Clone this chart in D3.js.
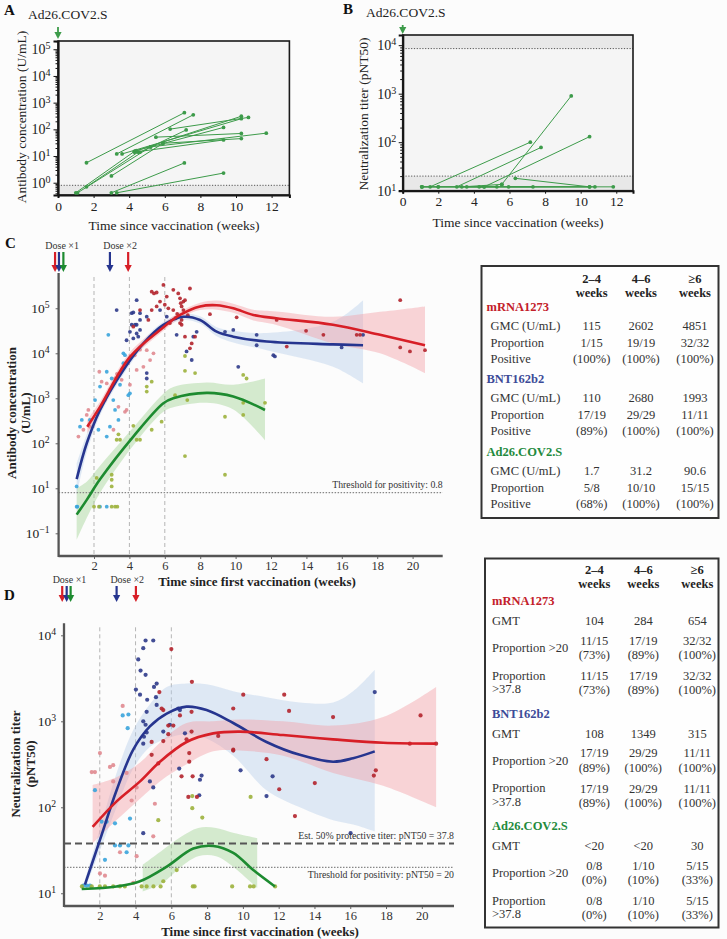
<!DOCTYPE html>
<html><head><meta charset="utf-8">
<script src="https://cdn.jsdelivr.net/npm/d3@7"></script>
<style>
body{margin:0;background:#fcfcfc;}
svg, svg text{font-family:'Liberation Serif','DejaVu Serif','Noto Serif',serif;}
</style>
</head><body>
<script>
// ---------------- DATA ----------------
const aWeek0 = [1.6, 1.0, 1.1, 1.6, 3.0, 3.3, 3.6, 4.3, 4.4, 5.5, 6.3, 5.2, 5.9, 4.6, 3.0, 3.3, 4.3];
const aConc0 = [5.6, 0.42, 0.42, 0.7, 1.8, 12, 12, 15, 16, 51, 102, 22, 30, 14, 0.42, 0.42, 14];
const aWeek1 = [7.1, 4.3, 5.2, 4.5, 5.9, 7.6, 10.3, 10.3, 9.3, 10.3, 10.7, 11.7, 10.3, 7.2, 7.1, 9.3, 9.3];
const aConc1 = [420, 15, 22, 14, 30, 350, 250, 310, 118, 70, 280, 72, 45, 95, 5.5, 2.3, 40];
const aThreshold = 0.8;
const bWeek0 = [1.07, 1.1, 1.54, 2.0, 3.04, 5.57, 3.6, 4.3, 4.58, 6.33, 5.95, 3.32, 1.07];
const bTiter0 = [12, 12, 12, 12, 12, 13.5, 12, 12, 12, 18, 12, 12, 12];
const bWeek1 = [5.29, 4.58, 7.17, 7.32, 7.77, 9.47, 11.83, 10.8, 10.5, 10.5, 10.5, 5.57, 2.0];
const bTiter1 = [12, 12, 100, 12, 78, 900, 12, 12, 130, 12, 12, 13.5, 12];
const bLowLimit = 20, bHighLimit = 8500;
const decadeLabelsA = ["0","1","2","3","4","5"];
const decadeLabelsB = ["1","2","3","4"];
const weekTicksAB = [0,2,4,6,8,10,12];

const cRedWeek = [1.62,2.34,4.03,5.73,6.86,7.99,8.93,9.87,11.0,12.3,15.5,18.16,20.7];
const cRedFit = [234,646,8300,33000,71000,110000,117000,100000,71000,60000,43000,25700,15100];
const cRedHi = [331,851,10500,39800,83200,132000,148000,126000,93300,85100,64600,83200,110000];
const cRedLo = [166,490,6600,27500,60300,91200,93300,79400,53700,42700,16600,10000,3630];
const cBlueWeek = [1.02,1.59,2.34,3.66,4.79,5.92,7.05,7.99,8.93,9.87,11.76,15.5,17.2];
const cBlueFit = [16,100,550,4270,16600,42700,64600,55000,30200,23400,18200,15800,15100];
const cBlueHi = [35,158,724,5370,20000,50100,75900,66100,38000,31600,28200,50100,151000];
const cBlueLo = [7.1,63,417,3390,13800,36300,55000,45700,24000,17400,11700,5010,2140];
const cGreenWeek = [1.02,1.6,2.34,4.22,5.92,6.48,8.37,9.87,11.66];
const cGreenFit = [2.6,5.6,15.8,141,776,1000,1320,1100,550];
const cGreenHi = [10,14.1,31.6,224,1260,1780,2240,2000,2750];
const cGreenLo = [0.71,2.24,7.9,89,500,631,794,562,117];
const cRedDots = [[5.26,234000],[5.39,214000],[5.54,224000],[5.92,331000],[5.26,91000],[5.54,110000],[5.73,141000],[6.11,182000],[6.48,257000],[6.76,214000],[6.86,166000],[6.95,110000],[7.05,91000],[7.14,151000],[7.42,275000],[6.48,91000],[6.29,47000],[6.86,47000],[6.95,55000],[7.05,141000],[6.95,43000],[7.14,23400],[7.42,12900],[7.52,16600],[7.71,23400],[8.55,74000],[10.06,63000],[12.32,55000],[12.89,14100],[13.98,31600],[14.96,25700],[16.84,25700],[17.03,25700],[19.3,151000],[19.3,13500],[19.85,11000],[20.7,11700],[4.6,91000],[4.22,39000],[5.07,55000],[6.6,60000],[6.7,75000],[6.2,100000],[6.0,120000],[6.9,130000],[7.3,70000]];
const cPinkDots = [[1.59,427],[1.68,550],[2.3,3890],[2.43,2340],[2.9,1550],[3.19,2750],[3.56,2570],[3.75,500],[3.84,550],[4.03,2000],[4.41,4270],[4.79,5010],[4.98,11700],[5.17,7080],[5.36,10000],[1.12,141],[1.4,200],[1.77,234],[2.62,912],[2.72,2140],[3.1,200],[3.38,646],[3.3,3500],[3.6,4500],[3.9,6000],[4.3,9000],[4.6,12000]];
const cBlueDots = [[3.28,91000],[4.13,78000],[4.22,81000],[4.41,151000],[4.6,78000],[4.98,65000],[4.13,43000],[4.32,43000],[4.41,43000],[4.6,55000],[4.03,30000],[4.41,27500],[4.6,33000],[4.22,21400],[4.5,23400],[3.84,19500],[5.73,91000],[6.11,65000],[6.67,25700],[7.61,23400],[7.8,30000],[9.4,30000],[9.87,33000],[11.19,25700],[11.19,15100],[12.13,9100],[12.22,8500],[15.99,13500],[10.15,5000],[7.52,7100],[7.23,11000],[4.98,2750],[4.98,3630],[17.2,25700]];
const cCyanDots = [[2.81,25700],[2.06,912],[2.34,1820],[2.72,3890],[3.0,2750],[3.09,912],[3.19,550],[3.38,331],[2.72,141],[2.9,234],[3.66,10000],[3.75,9100],[3.47,2000],[3.66,6030],[3.94,1170],[4.03,1290],[1.21,234],[1.31,331],[2.25,200],[1.02,11],[1.77,331],[1.06,3.9],[2.34,3.9],[2.72,3.9],[1.02,3.9]];
const cGreenDots = [[7.14,8700],[7.14,4070],[7.71,3630],[5.26,2340],[4.98,1410],[4.98,1820],[6.58,1170],[7.27,912],[10.43,3310],[10.62,2750],[10.43,794],[10.43,427],[11.66,794],[9.4,389],[7.14,52],[9.4,20],[4.22,245],[4.41,120],[4.6,120],[3.47,120],[3.28,120],[3.38,158],[5.26,200],[5.82,302],[2.15,17],[3.0,20],[3.0,15.5],[2.0,3.9],[2.28,3.9],[3.0,3.9],[3.19,3.9],[3.32,3.9],[3.0,11]];
const cThreshold = 8;
const cDecades = [1e5,1e4,1e3,1e2,1e1,1e0];
const cDecadeLabels = ["5","4","3","2","1","\u22121"];
const weekTicksCD = [2,4,6,8,10,12,14,16,18,20];
const bandWeeks = [2,4,6];
const cDose1 = [-0.2, 0.02, 0.27];
const cDose2 = [2.9, 3.93];
const dDose1 = [-0.1, 0.15, 0.37];
const dDose2 = [2.94, 4.02];

const dRedWeek = [1.6,2.94,4.25,5.36,6.85,8.34,9.83,12.25,15.04,17.84,20.8];
const dRedFit = [59,117,200,339,575,724,759,692,617,562,550];
const dRedHi = [182,224,331,562,955,1000,1050,1000,891,1120,2510];
const dRedLo = [38,71,126,200,316,447,457,398,251,178,100];
const dBlueWeek = [1.17,2.01,2.94,3.87,4.8,5.74,6.85,7.97,9.46,11.32,13.18,15.04,16.16,17.37];
const dBlueFit = [12.6,41.7,158,468,871,1230,1480,1350,955,575,407,339,372,447];
const dBlueHi = [14.1,56.2,251,794,1580,2510,2750,2690,2240,1910,1660,1660,2240,3980];
const dBlueLo = [11.2,31.6,100,282,501,631,708,631,398,158,100,70.8,63.1,52.5];
const dGreenWeek = [0.99,2.94,4.25,5.74,7.23,8.34,9.46,10.58,11.79];
const dGreenFit = [11.2,12.0,13.8,20.4,33.1,35.5,29.5,18.6,12.0];
const dGreenBandWeek = [4.4,5.5,6.5,7.5,8.5,9.5,10.8];
const dGreenHi = [21.4,31.6,44.7,57.5,57.5,50.1,43.7];
const dGreenLo = [10.5,13.2,20,26.9,26.9,20,11.5];
const dBlueDots = [[4.56,8710],[4.99,8710],[4.43,7080],[4.15,5250],[4.28,3890],[4.56,3470],[4.02,2340],[5.03,2510],[5.18,2750],[4.25,2040],[4.65,1780],[5.14,1910],[5.18,1550],[4.62,1290],[4.56,912],[4.43,1000],[4.47,661],[4.62,741],[4.43,550],[4.8,200],[4.99,170],[4.43,50],[6.44,282],[7.6,209],[7.69,234],[7.56,138],[9.87,269],[11.66,229],[11.32,135],[16.02,50],[6.76,724],[5.55,759],[5.92,912],[6.39,1410],[6.48,1350],[17.37,2190]];
const dCyanDots = [[3.28,1170],[3.6,1200],[3.56,832],[1.73,158],[2.1,68],[2.38,68],[2.85,65],[3.69,74],[2.85,36],[3.13,36],[3.6,36],[3.5,30],[2.29,24.5],[1.27,12.3],[1.45,12.3],[1.08,12.3]];
const dRedDots = [[6.0,6920],[7.15,2880],[5.33,2190],[5.46,1410],[5.55,1350],[6.48,1170],[7.13,1290],[9.46,1410],[12.58,1320],[15.04,1120],[19.93,1170],[5.83,891],[6.11,891],[7.13,759],[5.83,708],[5.55,589],[7.0,427],[7.0,339],[6.85,617],[4.9,575],[4.9,407],[5.27,324],[9.46,468],[6.57,229],[7.19,229],[6.95,132],[7.43,132],[8.62,676],[11.32,363],[12.03,162],[14.02,191],[12.91,79],[17.43,269],[17.32,234],[19.33,550],[20.8,550],[10.02,2040],[12.31,2040],[9.46,457]];
const dPinkDots = [[1.55,257],[1.73,257],[2.01,427],[2.57,295],[2.75,309],[3.5,251],[2.75,200],[3.78,120],[4.06,170],[5.08,110],[4.99,46],[3.13,30],[2.01,17],[2.29,16],[3.87,13.2],[4.06,27],[3.28,1510]];
const dGreenDots = [[1.0,12],[1.55,12],[2.0,12],[2.29,12],[2.75,12],[3.13,12],[3.4,12],[4.34,12],[4.62,12],[5.0,12],[5.4,12],[7.2,12],[7.3,12],[9.4,12],[10.4,12],[10.6,12],[11.8,12],[5.55,13.8],[6.3,18.6],[5.27,70.8],[7.17,135],[7.17,97.7],[7.73,75.9],[10.43,132]];
const dProtective = 37.8, dThreshold = 20;
const dDecades = [1e4,1e3,1e2,1e1];
const dDecadeLabels = ["4","3","2","1"];

const tableCols = ["2\u20134", "4\u20136", "\u22656"];
const groupNames = ["mRNA1273","BNT162b2","Ad26.COV2.S"];
const cGMC = [["115","2602","4851"],["110","2680","1993"],["1.7","31.2","90.6"]];
const cProp = [["1/15","19/19","32/32"],["17/19","29/29","11/11"],["5/8","10/10","15/15"]];
const cPos = [["(100%)","(100%)","(100%)"],["(89%)","(100%)","(100%)"],["(68%)","(100%)","(100%)"]];
const dGMT = [["104","284","654"],["108","1349","315"],["<20","<20","30"]];
const dProp20 = [["11/15","17/19","32/32"],["17/19","29/29","11/11"],["0/8","1/10","5/15"]];
const dPct20 = [["(73%)","(89%)","(100%)"],["(89%)","(100%)","(100%)"],["(0%)","(10%)","(33%)"]];
const dProp378 = [["11/15","17/19","32/32"],["17/19","29/29","11/11"],["0/8","1/10","5/15"]];
const dPct378 = [["(73%)","(89%)","(100%)"],["(89%)","(100%)","(100%)"],["(0%)","(10%)","(33%)"]];

// ---------------- STYLE ----------------
const FONT = "'Liberation Serif','DejaVu Serif','Noto Serif',serif";
const COL = {
  red:"#d71f27", blue:"#26358f", green:"#1d8b30",
  redDot:"#b3242c", pinkDot:"#e08a90", blueDot:"#2d3a89", cyanDot:"#3aa4dc", greenDot:"#9cb13c",
  redBand:"#f29aa2", blueBand:"#b5cdea", greenBand:"#9ed28e",
  headRed:"#c3202a", headBlue:"#3c4b98", headGreen:"#238a3c", abGreen:"#3d9b4a"
};
const W = 727, H = 939;
const svg = d3.select("body").append("svg").attr("width", W).attr("height", H).attr("font-family", FONT);

function supTicks(g, labels, size) {
  g.selectAll(".tick text").each(function(d, i) {
    const t = d3.select(this);
    t.text(null).attr("font-size", size).attr("font-family", FONT);
    t.append("tspan").text("10");
    t.append("tspan").attr("dy", "-0.5em").attr("font-size", "0.72em").text(labels[i]);
  });
}
function styleAxis(g, color, width) {
  g.attr("font-family", FONT);
  g.select(".domain").attr("stroke", color).attr("stroke-width", width);
  g.selectAll(".tick line").attr("stroke", color);
  g.selectAll(".tick text").attr("fill", "#222").attr("font-family", FONT);
}
function arrow(g, x, y0, y1, color, w) {
  g.append("line").attr("x1", x).attr("x2", x).attr("y1", y0).attr("y2", y1 - 6)
    .attr("stroke", color).attr("stroke-width", w);
  g.append("path").attr("d", `M${x-3.6},${y1-7}L${x+3.6},${y1-7}L${x},${y1}Z`).attr("fill", color);
}
function minorTicks(lo, hi) {
  const out = [];
  for (let e = -2; e <= 6; e++) for (let k = 2; k <= 9; k++) {
    const v = k * Math.pow(10, e);
    if (v > lo && v < hi) out.push(v);
  }
  return out;
}
function label(g, x, y, s, size, opts) {
  const t = g.append("text").attr("x", x).attr("y", y).attr("font-size", size).attr("font-family", FONT)
    .attr("fill", "#222").text(s);
  if (opts) opts(t);
  return t;
}

// ---------------- PANEL A ----------------
(function() {
  const g = svg.append("g");
  const x = d3.scaleLinear().domain([0, 13]).range([58, 289.4]);
  const y = d3.scaleLog().domain([0.347, 204000]).range([195, 41]);
  g.append("rect").attr("x", 58).attr("y", 41).attr("width", 231.4).attr("height", 154).attr("fill", "#f5f5f5");
  g.append("rect").attr("x", 58).attr("y", y(aThreshold)).attr("width", 231.4).attr("height", 195 - y(aThreshold)).attr("fill", "#e8e8e8");
  g.append("line").attr("x1", 58).attr("x2", 289.4).attr("y1", y(aThreshold)).attr("y2", y(aThreshold))
    .attr("stroke", "#555").attr("stroke-dasharray", "1.2,1.6");
  const minor = g.append("g").attr("transform", "translate(58,0)")
    .call(d3.axisLeft(y).tickValues(minorTicks(0.347, 204000)).tickSize(2.5).tickFormat(""));
  styleAxis(minor, "#111", 0);
  const ya = g.append("g").attr("transform", "translate(58,0)")
    .call(d3.axisLeft(y).tickValues([1,10,100,1000,10000,100000]).tickSize(4.5).tickPadding(3));
  styleAxis(ya, "#111", 2.2);
  supTicks(ya, decadeLabelsA, "14px");
  const xa = g.append("g").attr("transform", "translate(0,195)")
    .call(d3.axisBottom(x).tickValues(weekTicksAB).tickSize(3).tickPadding(3).tickFormat(d3.format("d")));
  styleAxis(xa, "#111", 2);
  xa.selectAll(".tick text").attr("font-size", "13.5px");
  g.append("rect").attr("x", 58).attr("y", 41).attr("width", 231.4).attr("height", 154)
    .attr("fill", "none").attr("stroke", "#1a1a1a").attr("stroke-width", 1.6);
  aWeek0.forEach((w, i) => {
    g.append("line").attr("x1", x(w)).attr("y1", y(aConc0[i])).attr("x2", x(aWeek1[i])).attr("y2", y(aConc1[i]))
      .attr("stroke", COL.abGreen).attr("stroke-width", 1);
    g.append("circle").attr("cx", x(w)).attr("cy", y(aConc0[i])).attr("r", 1.9).attr("fill", COL.abGreen);
    g.append("circle").attr("cx", x(aWeek1[i])).attr("cy", y(aConc1[i])).attr("r", 1.9).attr("fill", COL.abGreen);
  });
  label(g, 4, 15, "A", "15px", t => t.attr("font-weight", "bold").attr("fill", "#111"));
  label(g, 28, 19, "Ad26.COV2.S", "13.5px");
  arrow(g, x(0), 27, 39, COL.abGreen, 1.8);
  label(g, 0, 0, "Antibody concentration (U/mL)", "13.5px", t => t.attr("x", null).attr("y", null)
    .attr("transform", "translate(21,117) rotate(-90)").attr("text-anchor", "middle").attr("dominant-baseline", "central"));
  label(g, 174, 230, "Time since vaccination (weeks)", "13.5px", t => t.attr("text-anchor", "middle"));
})();

// ---------------- PANEL B ----------------
(function() {
  const g = svg.append("g");
  const L = 402.7, R = 633, T = 35, B = 190.7;
  const x = d3.scaleLinear().domain([0, 12.94]).range([L, R]);
  const y = d3.scaleLog().domain([10, 16200]).range([B, T]);
  g.append("rect").attr("x", L).attr("y", T).attr("width", R - L).attr("height", B - T).attr("fill", "#f5f5f5");
  g.append("rect").attr("x", L).attr("y", y(bLowLimit)).attr("width", R - L).attr("height", B - y(bLowLimit)).attr("fill", "#e8e8e8");
  g.append("rect").attr("x", L).attr("y", T).attr("width", R - L).attr("height", y(bHighLimit) - T).attr("fill", "#e8e8e8");
  [bLowLimit, bHighLimit].forEach(v => g.append("line").attr("x1", L).attr("x2", R).attr("y1", y(v)).attr("y2", y(v))
    .attr("stroke", "#555").attr("stroke-dasharray", "1.2,1.6"));
  const minor = g.append("g").attr("transform", `translate(${L},0)`)
    .call(d3.axisLeft(y).tickValues(minorTicks(10, 16200)).tickSize(2.5).tickFormat(""));
  styleAxis(minor, "#111", 0);
  const ya = g.append("g").attr("transform", `translate(${L},0)`)
    .call(d3.axisLeft(y).tickValues([10,100,1000,10000]).tickSize(4).tickPadding(2.5));
  styleAxis(ya, "#111", 2.2);
  supTicks(ya, decadeLabelsB, "14px");
  const xa = g.append("g").attr("transform", `translate(0,${B})`)
    .call(d3.axisBottom(x).tickValues(weekTicksAB).tickSize(3).tickPadding(3).tickFormat(d3.format("d")));
  styleAxis(xa, "#111", 2);
  xa.selectAll(".tick text").attr("font-size", "13.5px");
  g.append("rect").attr("x", L).attr("y", T).attr("width", R - L).attr("height", B - T)
    .attr("fill", "none").attr("stroke", "#1a1a1a").attr("stroke-width", 1.6);
  bWeek0.forEach((w, i) => {
    g.append("line").attr("x1", x(w)).attr("y1", y(bTiter0[i])).attr("x2", x(bWeek1[i])).attr("y2", y(bTiter1[i]))
      .attr("stroke", COL.abGreen).attr("stroke-width", 1);
    g.append("circle").attr("cx", x(w)).attr("cy", y(bTiter0[i])).attr("r", 1.9).attr("fill", COL.abGreen);
    g.append("circle").attr("cx", x(bWeek1[i])).attr("cy", y(bTiter1[i])).attr("r", 1.9).attr("fill", COL.abGreen);
  });
  label(g, 343, 14, "B", "15px", t => t.attr("font-weight", "bold").attr("fill", "#111"));
  label(g, 366, 17, "Ad26.COV2.S", "13.5px");
  arrow(g, x(0), 25, 34, COL.abGreen, 1.8);
  label(g, 0, 0, "Neutralization titer (pNT50)", "13.5px", t => t.attr("x", null).attr("y", null)
    .attr("transform", "translate(363,114) rotate(-90)").attr("text-anchor", "middle").attr("dominant-baseline", "central"));
  label(g, 518, 227, "Time since vaccination (weeks)", "13.5px", t => t.attr("text-anchor", "middle"));
})();

// ---------------- PANELS C & D ----------------
function timePanel(o) {
  const g = svg.append("g");
  const x = d3.scaleLinear().domain(o.xDomain).range([o.L, o.R]);
  const y = d3.scaleLog().domain(o.yDomain).range([o.B, o.T]);
  bandWeeks.forEach(w => g.append("line").attr("x1", x(w)).attr("x2", x(w)).attr("y1", o.T + 4).attr("y2", o.B)
    .attr("stroke", "#b5b5b5").attr("stroke-width", 1).attr("stroke-dasharray", "4,3"));
  o.series.forEach(s => {
    const idx = d3.range(s.bw.length);
    g.append("path").datum(idx).attr("fill", s.band).attr("fill-opacity", 0.42)
      .attr("d", d3.area().x(i => x(s.bw[i])).y0(i => y(s.lo[i])).y1(i => y(s.hi[i])).curve(d3.curveCatmullRom)(idx));
  });
  o.dots.forEach(d => d.pts.forEach(p => g.append("circle").attr("cx", x(p[0])).attr("cy", y(p[1]))
    .attr("r", o.r).attr("fill", d.color).attr("fill-opacity", 0.9)));
  o.lines.forEach(l => {
    g.append("line").attr("x1", o.L).attr("x2", o.R).attr("y1", y(l.v)).attr("y2", y(l.v))
      .attr("stroke", l.color).attr("stroke-width", l.w).attr("stroke-dasharray", l.dash);
    label(g, o.R, y(l.v) + l.dy, l.label, "9.8px", t => t.attr("text-anchor", "end").attr("fill", "#333"));
  });
  o.series.forEach(s => {
    const idx = d3.range(s.w.length);
    g.append("path").datum(idx).attr("fill", "none").attr("stroke", s.color).attr("stroke-width", 2.6)
      .attr("d", d3.line().x(i => x(s.w[i])).y(i => y(s.fit[i])).curve(d3.curveCatmullRom)(idx));
  });
  const ya = g.append("g").attr("transform", `translate(${o.L},0)`)
    .call(d3.axisLeft(y).tickValues(o.decades).tickSize(3).tickPadding(o.yPad));
  styleAxis(ya, "#666", 0);
  supTicks(ya, o.decadeLabels, "13.5px");
  const xa = g.append("g").attr("transform", `translate(0,${o.B})`)
    .call(d3.axisBottom(x).tickValues(weekTicksCD).tickSize(3).tickPadding(2).tickFormat(d3.format("d")));
  styleAxis(xa, "#666", 0);
  xa.selectAll(".tick text").attr("font-size", "12.5px").attr("fill", "#333");
  g.append("line").attr("x1", o.L).attr("x2", o.L).attr("y1", o.T).attr("y2", o.B + 1).attr("stroke", "#555").attr("stroke-width", 2.3);
  g.append("line").attr("x1", o.L).attr("x2", o.R).attr("y1", o.B).attr("y2", o.B).attr("stroke", "#555").attr("stroke-width", 2.3);
  label(g, o.xLabelX, o.xLabelY, "Time since first vaccination (weeks)", "13px",
    t => t.attr("text-anchor", "middle").attr("font-weight", "bold"));
  o.yLabel.forEach((s, i) => label(g, 0, 0, s, "13px", t => t.attr("x", null).attr("y", null)
    .attr("transform", `translate(${o.yLabelX[i]},${o.yLabelY}) rotate(-90)`)
    .attr("text-anchor", "middle").attr("dominant-baseline", "central").attr("font-weight", "bold")));
  label(g, o.letterX, o.letterY, o.letter, "15px", t => t.attr("font-weight", "bold").attr("fill", "#111"));
  const d1c = [COL.red, COL.blue, COL.green];
  o.dose1.forEach((w, i) => arrow(g, x(w), o.arrowY0, o.arrowY1, d1c[i], 2.2));
  const d2c = [COL.blue, COL.red];
  o.dose2.forEach((w, i) => arrow(g, x(w), o.arrowY0, o.arrowY1, d2c[i], 2.2));
  label(g, d3.mean(o.dose1.map(x)) + 3, o.arrowY0 - 3, "Dose \u00d71", "10px", t => t.attr("text-anchor", "middle").attr("fill", "#333"));
  label(g, d3.mean(o.dose2.map(x)) + 1, o.arrowY0 - 3, "Dose \u00d72", "10px", t => t.attr("text-anchor", "middle").attr("fill", "#333"));
}

timePanel({
  L: 58.6, R: 442.7, T: 273, B: 556, xDomain: [0, 21.7], yDomain: [0.313, 608000],
  r: 1.9, yPad: 6, decades: cDecades, decadeLabels: cDecadeLabels,
  series: [
    {w: cGreenWeek, fit: cGreenFit, bw: cGreenWeek, hi: cGreenHi, lo: cGreenLo, color: COL.green, band: COL.greenBand},
    {w: cBlueWeek, fit: cBlueFit, bw: cBlueWeek, hi: cBlueHi, lo: cBlueLo, color: COL.blue, band: COL.blueBand},
    {w: cRedWeek, fit: cRedFit, bw: cRedWeek, hi: cRedHi, lo: cRedLo, color: COL.red, band: COL.redBand}
  ],
  dots: [
    {pts: cPinkDots, color: COL.pinkDot}, {pts: cCyanDots, color: COL.cyanDot}, {pts: cGreenDots, color: COL.greenDot},
    {pts: cBlueDots, color: COL.blueDot}, {pts: cRedDots, color: COL.redDot}
  ],
  lines: [{v: cThreshold, color: "#888", w: 1.3, dash: "1.5,1.5", dy: -5, label: "Threshold for positivity: 0.8"}],
  xLabelX: 257, xLabelY: 586, yLabel: ["Antibody concentration", "(U/mL)"], yLabelX: [11, 25], yLabelY: 413,
  letter: "C", letterX: 5, letterY: 248, dose1: cDose1, dose2: cDose2, arrowY0: 252, arrowY1: 272
});

timePanel({
  L: 64, R: 454, T: 623.3, B: 906, xDomain: [0, 21.8], yDomain: [7.11, 13800],
  r: 2.1, yPad: 5, decades: dDecades, decadeLabels: dDecadeLabels,
  series: [
    {w: dGreenWeek, fit: dGreenFit, bw: dGreenBandWeek, hi: dGreenHi, lo: dGreenLo, color: COL.green, band: COL.greenBand},
    {w: dBlueWeek, fit: dBlueFit, bw: dBlueWeek, hi: dBlueHi, lo: dBlueLo, color: COL.blue, band: COL.blueBand},
    {w: dRedWeek, fit: dRedFit, bw: dRedWeek, hi: dRedHi, lo: dRedLo, color: COL.red, band: COL.redBand}
  ],
  dots: [
    {pts: dPinkDots, color: COL.pinkDot}, {pts: dCyanDots, color: COL.cyanDot}, {pts: dGreenDots, color: COL.greenDot},
    {pts: dBlueDots, color: COL.blueDot}, {pts: dRedDots, color: COL.redDot}
  ],
  lines: [
    {v: dProtective, color: "#555", w: 2, dash: "7,4", dy: -5, label: "Est. 50% protective titer: pNT50 = 37.8"},
    {v: dThreshold, color: "#888", w: 1.3, dash: "1.5,1.5", dy: 11, label: "Threshold for positivity: pNT50 = 20"}
  ],
  xLabelX: 260, xLabelY: 936, yLabel: ["Neutralization titer", "(pNT50)"], yLabelX: [15, 30], yLabelY: 764,
  letter: "D", letterX: 4, letterY: 600, dose1: dDose1, dose2: dDose2, arrowY0: 586, arrowY1: 602
});

// ---------------- TABLES ----------------
const headColors = [COL.headRed, COL.headBlue, COL.headGreen];
function txt(g, x, y, s, anchor, extra) {
  const t = g.append("text").attr("x", x).attr("y", y).attr("dy", "0.35em").attr("text-anchor", anchor || "start")
    .attr("font-size", "12.5px").attr("font-family", FONT).attr("fill", "#333").text(s);
  if (extra) extra(t);
  return t;
}
(function() {
  const g = svg.append("g");
  g.append("rect").attr("x", 481.5).attr("y", 266).attr("width", 237).attr("height", 252)
    .attr("fill", "#fefefe").attr("stroke", "#333").attr("stroke-width", 2);
  const cx = [591.7, 641, 695];
  tableCols.forEach((c, j) => {
    txt(g, cx[j], 278.5, c, "middle", t => t.attr("font-weight", "bold").attr("fill", "#222"));
    txt(g, cx[j], 292.5, "weeks", "middle", t => t.attr("font-weight", "bold").attr("fill", "#222"));
  });
  const gy = [307, 379, 452];
  groupNames.forEach((n, k) => {
    txt(g, 486.5, gy[k], n, "start", t => t.attr("font-weight", "bold").attr("fill", headColors[k]));
    txt(g, 490.5, gy[k] + 19, "GMC (U/mL)");
    txt(g, 490.5, gy[k] + 35.5, "Proportion");
    txt(g, 490.5, gy[k] + 52, "Positive");
    cx.forEach((x, j) => {
      txt(g, x, gy[k] + 19, cGMC[k][j], "middle");
      txt(g, x, gy[k] + 35.5, cProp[k][j], "middle");
      txt(g, x, gy[k] + 52, cPos[k][j], "middle");
    });
  });
})();
(function() {
  const g = svg.append("g");
  g.append("rect").attr("x", 485).attr("y", 558.5).attr("width", 233.5).attr("height", 369)
    .attr("fill", "#fefefe").attr("stroke", "#333").attr("stroke-width", 2);
  const cx = [594.3, 643.3, 697.3];
  tableCols.forEach((c, j) => {
    txt(g, cx[j], 570, c, "middle", t => t.attr("font-weight", "bold").attr("fill", "#222"));
    txt(g, cx[j], 584, "weeks", "middle", t => t.attr("font-weight", "bold").attr("fill", "#222"));
  });
  const gy = [601, 713.5, 826];
  groupNames.forEach((n, k) => {
    const y0 = gy[k];
    txt(g, 492, y0, n, "start", t => t.attr("font-weight", "bold").attr("fill", headColors[k]));
    txt(g, 492, y0 + 20, "GMT");
    txt(g, 492, y0 + 47, "Proportion >20");
    txt(g, 492, y0 + 74.5, "Proportion");
    txt(g, 492, y0 + 88, ">37.8");
    cx.forEach((x, j) => {
      txt(g, x, y0 + 20, dGMT[k][j], "middle");
      txt(g, x, y0 + 39.5, dProp20[k][j], "middle");
      txt(g, x, y0 + 54, dPct20[k][j], "middle");
      txt(g, x, y0 + 75, dProp378[k][j], "middle");
      txt(g, x, y0 + 89, dPct378[k][j], "middle");
    });
  });
})();
</script>
</body></html>
